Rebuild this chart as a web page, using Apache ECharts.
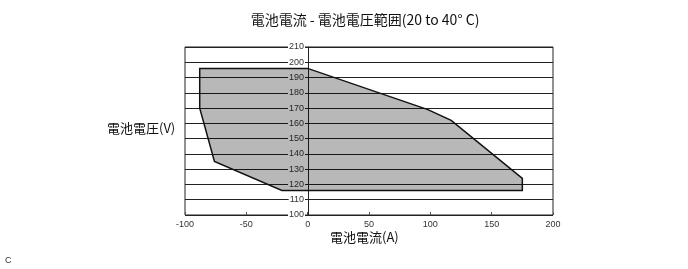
<!DOCTYPE html>
<html><head><meta charset="utf-8">
<script src="https://cdn.jsdelivr.net/npm/echarts@6/dist/echarts.min.js"></script>
<style>html,body{margin:0;padding:0;background:#fff}#c{width:688px;height:269px}</style>
</head><body><div id="c"></div>
<script>
const titleText = '電池電流 - 電池電圧範囲(20 to 40° C)';
const xName = '電池電流(A)';
const yName = '電池電圧(V)';
const xTicks = [-100, -50, 0, 50, 100, 150, 200];
const yTicks = [100, 110, 120, 130, 140, 150, 160, 170, 180, 190, 200, 210];
const polyX = [-88, 0, 98, 117, 175, 175, -21, -76, -88];
const polyY = [196, 196, 169, 162, 124, 116, 116, 135, 170];

const chart = echarts.init(document.getElementById('c'));
const jp = '"Noto Sans CJK JP", sans-serif';
chart.setOption({
  animation: false,
  title: {text: titleText, left: 360, top: 8, textAlign: 'center',
    textStyle: {fontFamily: jp, fontSize: 14, fontWeight: 'normal', color: '#111'}},
  grid: {left: 185, right: 135, top: 47, bottom: 54, show: true, borderColor: '#222', borderWidth: 1},
  xAxis: {type: 'value', min: xTicks[0], max: xTicks[xTicks.length-1], interval: 50,
    axisLine: {show: false}, axisTick: {show: true, inside: true, length: 3, lineStyle: {color: '#555'}},
    splitLine: {show: false},
    axisLabel: {fontFamily: 'Liberation Sans', fontSize: 9, color: '#333', margin: 5}},
  yAxis: {type: 'value', min: yTicks[0], max: yTicks[yTicks.length-1], interval: 10,
    position: 'left', offset: -123,
    axisLine: {show: true, onZero: false, lineStyle: {color: '#222'}},
    axisTick: {show: false},
    splitLine: {show: true, lineStyle: {color: '#222', width: 1}},
    axisLabel: {fontFamily: 'Liberation Sans', fontSize: 9, color: '#333', margin: 3,
      backgroundColor: '#fff', padding: [0, 1, 0, 1]}},
  graphic: [
    {type: 'text', left: 107, top: 122, style: {text: yName, font: '13px ' + jp, fill: '#111'}},
    {type: 'text', left: 330, top: 231, style: {text: xName, font: '13px ' + jp, fill: '#111'}},
    {type: 'text', left: 5, top: 256, style: {text: 'C', font: '9px Liberation Sans', fill: '#333'}}
  ],
  series: [{
    type: 'custom', z: 10,
    data: polyX.map((x, i) => [x, polyY[i]]),
    renderItem: function (params, api) {
      if (params.dataIndex !== 0) return;
      const pts = polyX.map((x, i) => api.coord([x, polyY[i]]));
      return {type: 'polygon', shape: {points: pts},
        style: {fill: 'rgba(0,0,0,0.28)', stroke: '#111', lineWidth: 1.5}};
    }
  }]
});
</script></body></html>
